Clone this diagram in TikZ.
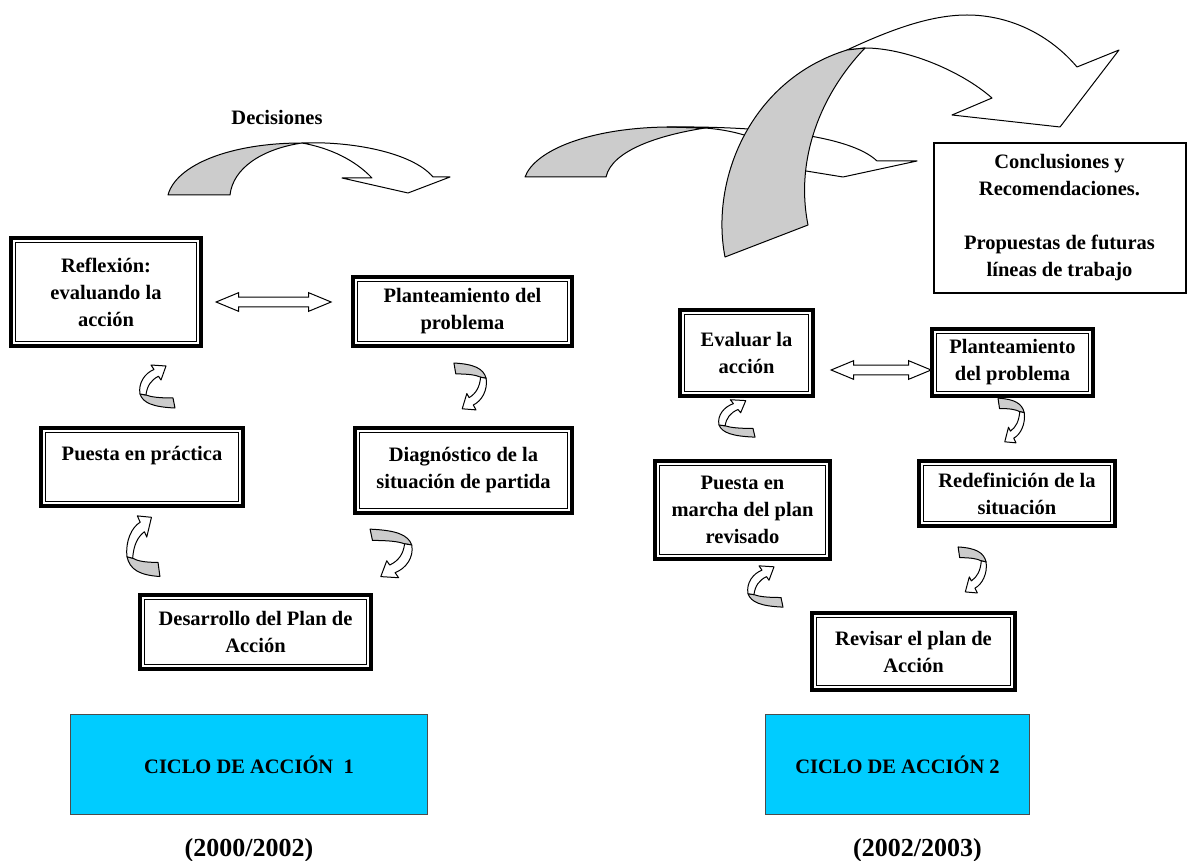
\documentclass[tikz,border=0pt]{standalone}
\usepackage{fontspec}
\setmainfont{Liberation Serif}
\usetikzlibrary{positioning,shapes.arrows}

\definecolor{shade}{RGB}{204,204,204}
\definecolor{cyclecyan}{RGB}{0,204,255}

\tikzset{
  curl/.pic={
    \draw[back] (-17,8) .. controls (-14,17) and (-4,21) .. (18,22) -- (16,12)
      .. controls (2,12) and (-6,11) .. (-11,9) -- cycle;
    \draw[front] (-17,8) .. controls (-19,-3) and (-12,-13) .. (-3,-16.5) -- (-6,-21)
      -- (9,-20) -- (4,-6) -- (1.5,-9.75) .. controls (-6,-6) and (-10,0) .. (-11,9) -- cycle;
  }
}

\begin{document}
\begin{tikzpicture}[
  x=0.5pt, y=-0.5pt,
  font=\fontsize{10.25}{13.5}\selectfont\bfseries,
  stage/.style={draw, line width=1.8pt, fill=white, align=center, inner sep=2pt,
                path picture={\draw[line width=0.6pt]
                  ([shift={(2.2pt,-2.2pt)}]path picture bounding box.north west) rectangle
                  ([shift={(-2.2pt,2.2pt)}]path picture bounding box.south east);}},
  notebox/.style={draw, line width=1pt, fill=white, align=center, inner sep=2pt},
  cyclebox/.style={draw=black!70, line width=0.6pt, fill=cyclecyan, align=center},
  years/.style={font=\fontsize{13}{15}\selectfont\bfseries},
  biarrow/.style={double arrow, draw, fill=white, line width=0.5pt, inner xsep=0pt,
                  inner ysep=2.2pt, double arrow head extend=2.2pt,
                  double arrow tip angle=45},
  back/.style={draw, fill=shade, line width=0.5pt, line join=round},
  front/.style={draw, fill=white, line width=0.5pt, line join=round},
]
  \useasboundingbox (0,0) rectangle (1188,861);

  % decisiones arrow
  \node (dec) at (277,117) {Decisiones};
  \draw[back] (168,195) .. controls (176,165) and (230,143) .. (302,143)
    .. controls (262,149) and (233,168) .. (230,195) -- cycle;
  \draw[front] (302,143) .. controls (350,141) and (412,152) .. (433,177) -- (450,177)
    -- (408,193) -- (342,178) -- (372,178) .. controls (355,160) and (330,148) .. (302,143) -- cycle;

  % middle arrow
  \draw[back] (525,177) .. controls (535,150) and (590,128) .. (667,127) -- (705,128)
    .. controls (660,135) and (612,150) .. (606,177) -- cycle;
  \draw[front] (705,128) .. controls (745,131) and (780,145) .. (800,170) -- (843,177)
    -- (917,161) -- (877,161) .. controls (850,135) and (760,126) .. (667,127) -- cycle;

  % big arrow
  \draw[front] (847,50) .. controls (890,30) and (930,15) .. (967,15)
    .. controls (1010,15) and (1050,35) .. (1077,67) -- (1119,50) -- (1060,127)
    -- (952,115) -- (992,98) .. controls (960,70) and (905,48) .. (865,48) -- cycle;
  \draw[back] (725,257) .. controls (710,180) and (750,80) .. (847,50) -- (865,48)
    .. controls (820,95) and (795,160) .. (808,225) -- cycle;

  % ciclo 1
  \node[stage, minimum width=95pt, minimum height=54pt] (refl) at (106,292)
    {Reflexión:\\evaluando la\\acción};
  \node[stage, minimum width=109.7pt, minimum height=34.7pt] (plan1) at (462.5,311.5)
    {Planteamiento del\\problema};
  \node[stage, minimum width=101.2pt, minimum height=39.2pt] (prac1) at (142,467)
    {Puesta en práctica\\~};
  \node[stage, minimum width=108.7pt, minimum height=42.7pt] (diag1) at (463.5,470.5)
    {Diagnóstico de la\\situación de partida};
  \node[stage, minimum width=115.7pt, minimum height=37pt] (desa1) at (255.5,632)
    {Desarrollo del Plan de\\Acción};
  \node[biarrow, minimum height=57.5pt, right=6pt of refl, yshift=-5pt] (swap1) {};

  \pic at (157,386) {curl};
  \pic[xscale=0.94, yscale=1.41] at (143,545.5) {curl};
  \pic[xscale=0.92, yscale=1.09, rotate=180] at (470.5,387) {curl};
  \pic[xscale=1.19, yscale=1.13, rotate=180] at (391.5,554) {curl};

  \node[cyclebox, minimum width=178.7pt, minimum height=50.2pt] (ciclo1) at (249,764.5)
    {CICLO DE ACCIÓN~~1};
  \node[years, below=8pt of ciclo1] (year1) {(2000/2002)};

  % ciclo 2
  \node[notebox, minimum width=126pt, minimum height=74.5pt] (concl) at (1059.5,218)
    {Conclusiones y\\Recomendaciones.\\[13.5pt]Propuestas de futuras\\líneas de trabajo};
  \node[stage, minimum width=66.7pt, minimum height=43.2pt] (eval2) at (746.5,353)
    {Evaluar la\\acción};
  \node[stage, minimum width=80.7pt, minimum height=33.7pt] (plan2) at (1012.5,362.5)
    {Planteamiento\\del problema};
  \node[stage, minimum width=87.7pt, minimum height=49.2pt] (marcha2) at (742.5,510)
    {Puesta en\\marcha del plan\\revisado};
  \node[stage, minimum width=98.2pt, minimum height=32.7pt] (redef2) at (1017,493.5)
    {Redefinición de la\\situación};
  \node[stage, minimum width=101.7pt, minimum height=38.7pt] (revis2) at (913.5,651.5)
    {Revisar el plan de\\Acción};
  \node[biarrow, minimum height=50pt, right=7.4pt of eval2, yshift=-8.5pt] (swap2) {};

  \pic[xscale=1.03, yscale=0.87] at (736.5,418) {curl};
  \pic[xscale=1, yscale=0.96] at (765,586) {curl};
  \pic[xscale=0.75, yscale=1.04, rotate=180] at (1011.5,421) {curl};
  \pic[xscale=0.8, yscale=1.07, rotate=180] at (972.5,570.5) {curl};

  \node[cyclebox, minimum width=132.2pt, minimum height=50.2pt] (ciclo2) at (897.5,764.5)
    {CICLO DE ACCIÓN 2};
  \node[years, below=8pt of ciclo2, xshift=10pt] (year2) {(2002/2003)};
\end{tikzpicture}
\end{document}
